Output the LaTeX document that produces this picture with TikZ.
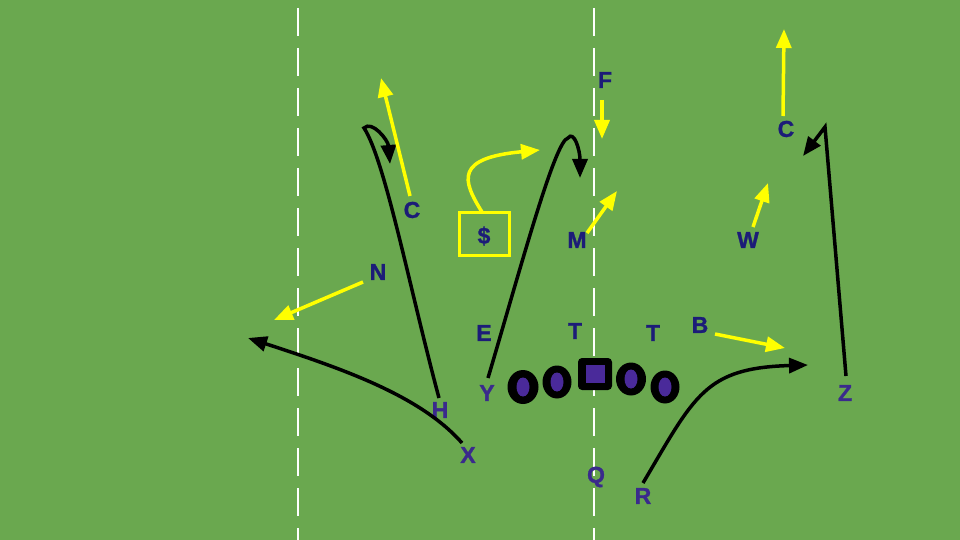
\documentclass[tikz,border=0pt]{standalone}
\usepackage{fontspec}
\setmainfont{Liberation Sans}
\newfontfamily\heavy{Liberation Sans Bold}[FakeBold=1.2]
\usetikzlibrary{arrows.meta,shapes.geometric}
\definecolor{field}{HTML}{6AA84F}
\definecolor{defc}{HTML}{1C1C78}
\definecolor{offc}{HTML}{3A2A8C}
\definecolor{inner}{HTML}{4A2A9A}
\definecolor{yel}{HTML}{FFFF00}
\tikzset{
  def/.style={text=defc, font=\heavy\fontsize{23}{25}\selectfont, inner sep=0pt},
  off/.style={text=offc, font=\heavy\fontsize{23}{25}\selectfont, inner sep=0pt},
  route/.style={draw=black, line width=3.5pt, -{Triangle[length=19pt,width=15pt]}},
  yroute/.style={draw=yel, line width=3.5pt, -{Triangle[length=19pt,width=15pt]}},
  hash/.style={draw=white, line width=2.2pt, dash pattern=on 28pt off 12pt},
  lineman/.style={ellipse, fill=black, minimum width=30pt, minimum height=33pt, inner sep=0pt},
}
\begin{document}
\begin{tikzpicture}[x=1pt,y=-1pt]
\fill[field] (0,0) rectangle (960,540);
\useasboundingbox (0,0) rectangle (960,540);
% hash lines
\coordinate (h1t) at (298,8); \coordinate (h1b) at (298,540);
\coordinate (h2t) at (594,8); \coordinate (h2b) at (594,540);
\draw[hash] (h1t) -- (h1b);
\draw[hash] (h2t) -- (h2b);
% linemen
\node[lineman, minimum width=31pt, minimum height=34pt] (l1) at (523,387) {};
\fill[inner] (l1) ellipse (6.5pt and 9.5pt);
\node[lineman, minimum width=29pt, minimum height=33pt] (l2) at (557,382) {};
\fill[inner] (l2) ellipse (6.5pt and 9.5pt);
\node[fill=black, rounded corners=4pt, minimum width=34pt, minimum height=32pt, inner sep=0pt] (ctr) at (595,374) {};
\fill[inner] (585.5,365) rectangle (604.5,383);
\node[lineman, minimum width=30pt, minimum height=33pt] (l4) at (631,379) {};
\fill[inner] (l4) ellipse (6.5pt and 9.5pt);
\node[lineman, minimum width=29pt, minimum height=33pt] (l5) at (665,387) {};
\fill[inner] (l5) ellipse (6.5pt and 9.5pt);
% defense labels
\node[def] (F) at (605,80) {F};
\node[def] (C1) at (412,210) {C};
\node[def] (M) at (577,240) {M};
\node[def] (N) at (378,272) {N};
\node[def] (E) at (484,333) {E};
\node[def] (T1) at (575,331) {T};
\node[def] (T2) at (653,333) {T};
\node[def] (B) at (700,325) {B};
\node[def] (C2) at (786,129) {C};
\node[def] (W) at (748,240) {W};
\node[draw=yel, line width=3pt, minimum width=50pt, minimum height=43pt, inner sep=0pt] (box) at (484,234) {};
\node[def] (S) at (484,236) {\$};
% offense labels
\node[off] (Y) at (487,393) {Y};
\node[off] (H) at (440,410) {H};
\node[off] (X) at (468,455) {X};
\node[off] (Q) at (596,477) {Q};
\node[off] (R) at (643,496) {R};
\node[off] (Z) at (845,393) {Z};
% route end coordinates
\coordinate (xs) at (462,443); \coordinate (xe) at (248,338);
\coordinate (hs) at (439,398); \coordinate (ht) at (364,128); \coordinate (he) at (390,164);
\coordinate (ys) at (488,378); \coordinate (yt) at (568,138); \coordinate (ye) at (580,178);
\coordinate (rs) at (643,483); \coordinate (re) at (808,365);
\coordinate (zs) at (846,376); \coordinate (zt) at (825,127); \coordinate (ze) at (803,156);
% black routes
\draw[route] (xs) .. controls (420,395) and (340,368) .. (xe);
\draw[route] (hs) .. controls (410,290) and (385,160) .. (ht) .. controls (372,120) and (388,140) .. (he);
\draw[route] (ys) .. controls (520,270) and (555,140) .. (yt) .. controls (574,130) and (580,150) .. (ye);
\draw[route] (rs) .. controls (695,395) and (705,368) .. (re);
\draw[route] (zs) -- (zt) -- (ze);
% yellow routes
\coordinate (fs) at (602,100); \coordinate (fe) at (602,139);
\coordinate (ms) at (587,233); \coordinate (me) at (617,191);
\coordinate (ss) at (482,212); \coordinate (se) at (540,150);
\coordinate (c1s) at (410,196); \coordinate (c1e) at (381,78);
\coordinate (ns) at (363,282); \coordinate (ne) at (274,320);
\coordinate (c2s) at (783,116); \coordinate (c2e) at (784,29);
\coordinate (ws) at (753,227); \coordinate (we) at (768,183);
\coordinate (bs) at (715,334); \coordinate (be) at (785,348);
\draw[yroute] (fs) -- (fe);
\draw[yroute] (ms) -- (me);
\draw[yroute] (ss) .. controls (462,180) and (455,158) .. (se);
\draw[yroute] (c1s) -- (c1e);
\draw[yroute] (ns) -- (ne);
\draw[yroute] (c2s) -- (c2e);
\draw[yroute] (ws) -- (we);
\draw[yroute] (bs) -- (be);
\end{tikzpicture}
\end{document}
